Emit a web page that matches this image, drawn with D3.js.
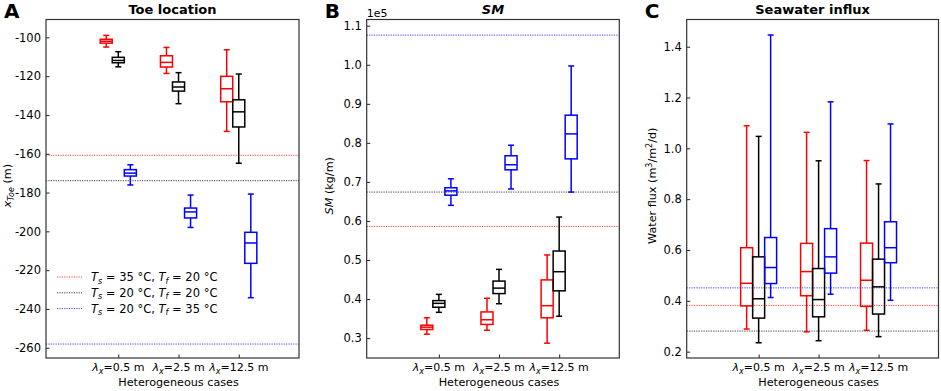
<!DOCTYPE html>
<html>
<head>
<meta charset="utf-8">
<script src="https://cdn.jsdelivr.net/npm/d3@7"></script>
<style>
  body { margin: 0; background: #fff; }
  text { font-family: "DejaVu Sans", sans-serif; fill: #000; }
</style>
</head>
<body>
<svg id="chart" width="941" height="391"></svg>
<script>
// categories (lambda_x) and series
const categories = ['0.5', '2.5', '12.5'];
const seriesColors = ['#ff0000', '#000000', '#0000ff'];
const legendTemps = [['35', '20'], ['20', '20'], ['20', '35']];

// box stats per category: [whislo, q1, med, q3, whishi]
const toeRed = [[-105, -103, -102, -101, -99], [-118.6, -115.3, -112.9, -109.5, -105.2], [-148.5, -133.2, -126.5, -120.1, -106.4]];
const toeBlack = [[-115.2, -113.1, -111.9, -110.3, -107.4], [-134.2, -127.7, -125.6, -123, -118.2], [-164.9, -146.2, -138.4, -132.2, -118.9]];
const toeBlue = [[-176.1, -171.5, -170, -168.2, -165.7], [-198, -193.1, -190, -188, -181.3], [-234.2, -216.5, -206, -200.5, -180.8]];
const toeRef = [-160.8, -173.9, -258.1];
const toeTicks = [-260, -240, -220, -200, -180, -160, -140, -120, -100];

const smRed = [[31000, 32200, 32800, 33300, 35200], [32000, 33500, 34700, 36700, 40200], [28700, 35200, 38300, 44900, 51300]];
const smBlack = [[36600, 37900, 38900, 39600, 41200], [38800, 41400, 42800, 44600, 47600], [35600, 42100, 47000, 52300, 61000]];
const smBlue = [[64000, 66600, 67700, 68500, 70800], [68200, 73100, 74400, 76700, 79400], [67400, 75900, 82300, 87100, 99700]];
const smRef = [58600, 67400, 107600];
const smTicks = [30000, 40000, 50000, 60000, 70000, 80000, 90000, 100000, 110000];

const fluxRed = [[0.289, 0.380, 0.469, 0.609, 1.089], [0.278, 0.420, 0.515, 0.626, 1.063], [0.284, 0.378, 0.481, 0.627, 0.952]];
const fluxBlack = [[0.235, 0.332, 0.408, 0.573, 1.047], [0.243, 0.337, 0.405, 0.527, 0.951], [0.259, 0.348, 0.455, 0.564, 0.860]];
const fluxBlue = [[0.413, 0.468, 0.531, 0.649, 1.446], [0.426, 0.509, 0.573, 0.684, 1.183], [0.402, 0.550, 0.609, 0.711, 1.096]];
const fluxRef = [0.382, 0.281, 0.451];
const fluxTicks = [0.2, 0.4, 0.6, 0.8, 1.0, 1.2, 1.4];

const svg = d3.select('#chart');
const plotTop = 19.5, plotBottom = 358;

const panels = [
    { letter: 'A', title: 'Toe location', italicTitle: false, left: 46, right: 299, domain: [-265.3, -90.8],
      series: [toeRed, toeBlack, toeBlue], refs: toeRef, ticks: toeTicks, fmt: d => String(d), labelX: 11, legend: true },
    { letter: 'B', title: 'SM', italicTitle: true, left: 366.7, right: 619.3, domain: [24900, 111600],
      series: [smRed, smBlack, smBlue], refs: smRef, ticks: smTicks, fmt: d => (d / 1e5).toFixed(1), labelX: 333, offset: '1e5' },
    { letter: 'C', title: 'Seawater influx', italicTitle: false, left: 686.7, right: 938.5, domain: [0.175, 1.507],
      series: [fluxRed, fluxBlack, fluxBlue], refs: fluxRef, ticks: fluxTicks, fmt: d => d.toFixed(1), labelX: 656 }
];

const offsets = [-0.2, 0, 0.2];

panels.forEach((p, pi) => {
    const x = d3.scaleLinear().domain([-0.2, 4.0]).range([p.left, p.right]);
    const y = d3.scaleLinear().domain(p.domain).range([plotBottom, plotTop]);
    const g = svg.append('g');

    // reference lines
    p.refs.forEach((v, i) => {
        g.append('line')
            .attr('x1', p.left).attr('x2', p.right)
            .attr('y1', y(v)).attr('y2', y(v))
            .attr('stroke', seriesColors[i]).attr('stroke-width', 1)
            .attr('stroke-dasharray', '1.2,1.2').attr('opacity', 0.75);
    });

    // boxes
    p.series.forEach((s, si) => {
        const col = seriesColors[si];
        s.forEach((b, ci) => {
            const cx = x(ci + 1 + offsets[si]);
            const hw = x(0.1) - x(0);
            const bg = g.append('g').attr('stroke', col).attr('stroke-width', 1.5).attr('fill', 'none');
            bg.append('line').attr('x1', cx).attr('x2', cx).attr('y1', y(b[3])).attr('y2', y(b[4]));
            bg.append('line').attr('x1', cx).attr('x2', cx).attr('y1', y(b[1])).attr('y2', y(b[0]));
            bg.append('line').attr('x1', cx - hw / 2).attr('x2', cx + hw / 2).attr('y1', y(b[4])).attr('y2', y(b[4]));
            bg.append('line').attr('x1', cx - hw / 2).attr('x2', cx + hw / 2).attr('y1', y(b[0])).attr('y2', y(b[0]));
            bg.append('rect').attr('x', cx - hw).attr('width', 2 * hw)
                .attr('y', y(b[3])).attr('height', y(b[1]) - y(b[3]));
            bg.append('line').attr('x1', cx - hw).attr('x2', cx + hw).attr('y1', y(b[2])).attr('y2', y(b[2]));
        });
    });

    // axes
    const ya = g.append('g').attr('transform', `translate(${p.left},0)`)
        .call(d3.axisLeft(y).tickValues(p.ticks).tickFormat(p.fmt).tickSizeInner(-3.5).tickSizeOuter(0).tickPadding(5));
    ya.select('.domain').remove();
    ya.selectAll('text').attr('font-size', 11.5).attr('font-family', 'DejaVu Sans');
    ya.selectAll('line').attr('stroke', '#222');

    const xa = g.append('g').attr('transform', `translate(0,${plotBottom})`)
        .call(d3.axisBottom(x).tickValues([1, 2, 3]).tickFormat('').tickSizeInner(-3.5).tickSizeOuter(0));
    xa.select('.domain').remove();
    xa.selectAll('line').attr('stroke', '#222');

    categories.forEach((c, i) => {
        const t = g.append('text').attr('x', x(i + 1)).attr('y', 371).attr('text-anchor', 'middle').attr('font-size', 11);
        t.append('tspan').attr('font-style', 'italic').text('λ');
        t.append('tspan').attr('font-style', 'italic').attr('font-size', 8).attr('dy', 2.5).text('x');
        t.append('tspan').attr('dy', -2.5).text(`=${c} m`);
    });

    g.append('text').attr('x', x(2)).attr('y', 385.5).attr('text-anchor', 'middle')
        .attr('font-size', 11.2).text('Heterogeneous cases');

    // frame
    g.append('rect').attr('x', p.left).attr('y', plotTop)
        .attr('width', p.right - p.left).attr('height', plotBottom - plotTop)
        .attr('fill', 'none').attr('stroke', '#333').attr('stroke-width', 1.2);

    // y label
    const yl = g.append('text').attr('transform', `translate(${p.labelX},${(plotTop + plotBottom) / 2 - 3}) rotate(-90)`)
        .attr('text-anchor', 'middle').attr('font-size', 11.2);
    if (pi === 0) {
        yl.append('tspan').attr('font-style', 'italic').text('x');
        yl.append('tspan').attr('font-style', 'italic').attr('font-size', 8).attr('dy', 2.5).text('Toe');
        yl.append('tspan').attr('dy', -2.5).text(' (m)');
    } else if (pi === 1) {
        yl.append('tspan').attr('font-style', 'italic').text('SM');
        yl.append('tspan').text(' (kg/m)');
    } else {
        yl.append('tspan').text('Water flux (m');
        yl.append('tspan').attr('font-size', 8).attr('dy', -4).text('3');
        yl.append('tspan').attr('dy', 4).text('/m');
        yl.append('tspan').attr('font-size', 8).attr('dy', -4).text('2');
        yl.append('tspan').attr('dy', 4).text('/d)');
    }

    // title and panel letter
    g.append('text').attr('x', (p.left + p.right) / 2).attr('y', 13.5).attr('text-anchor', 'middle')
        .attr('font-size', 13).attr('font-weight', 'bold')
        .attr('font-style', p.italicTitle ? 'italic' : 'normal').text(p.title);
    g.append('text').attr('x', p.left - 42).attr('y', 18)
        .attr('font-family', 'Liberation Sans, Arial, sans-serif')
        .attr('font-size', 20).attr('font-weight', 'bold').text(p.letter);

    if (p.offset) {
        g.append('text').attr('x', p.left).attr('y', 16.5).attr('font-size', 11).text(p.offset);
    }

    // legend
    if (p.legend) {
        legendTemps.forEach((tt, i) => {
            const ly = 277 + i * 15.8;
            g.append('line').attr('x1', 57).attr('x2', 82).attr('y1', ly).attr('y2', ly)
                .attr('stroke', seriesColors[i]).attr('stroke-width', 1)
                .attr('stroke-dasharray', '1.2,1.2').attr('opacity', 0.75);
            const t = g.append('text').attr('x', 91).attr('y', ly + 4).attr('font-size', 11.5);
            t.append('tspan').attr('font-style', 'italic').text('T');
            t.append('tspan').attr('font-style', 'italic').attr('font-size', 8).attr('dy', 2.5).text('s');
            t.append('tspan').attr('dy', -2.5).text(` = ${tt[0]} °C, `);
            t.append('tspan').attr('font-style', 'italic').text('T');
            t.append('tspan').attr('font-style', 'italic').attr('font-size', 8).attr('dy', 2.5).text('f');
            t.append('tspan').attr('dy', -2.5).text(` = ${tt[1]} °C`);
        });
    }
});
</script>
</body>
</html>
